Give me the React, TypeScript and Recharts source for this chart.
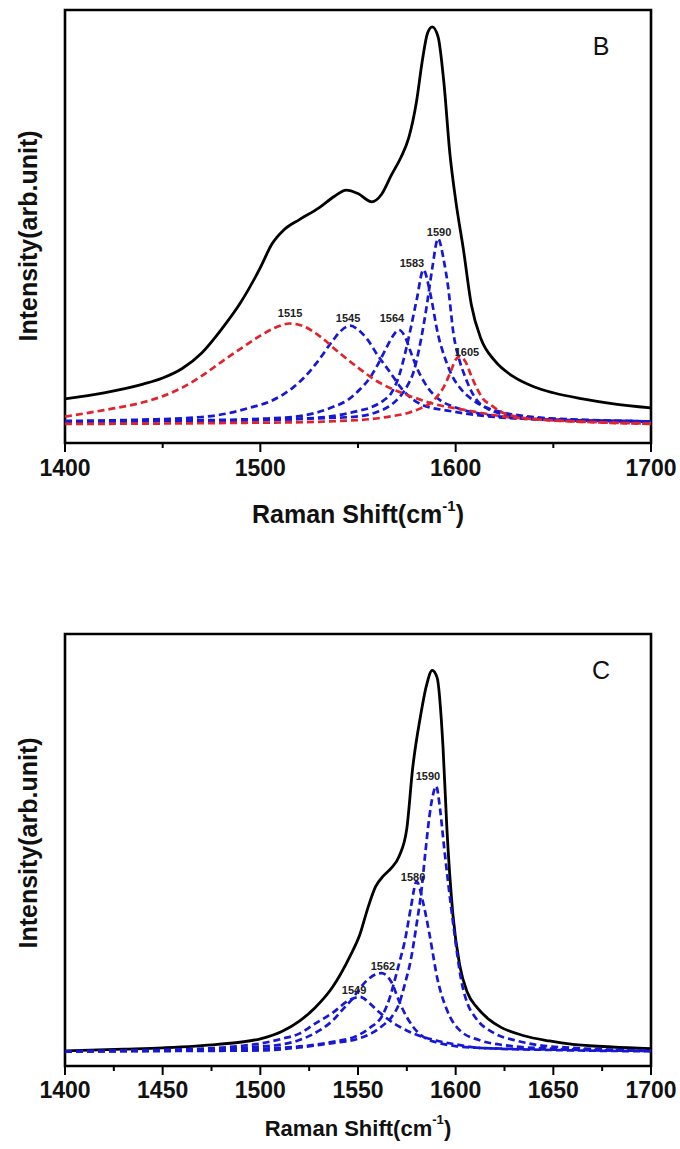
import React from "react";
import {
  LineChart,
  Line,
  XAxis,
  YAxis,
  ReferenceArea,
  ReferenceDot,
  Label,
} from "recharts";

type Pt = [number, number];

// ---- panel B (intensity in % of frame height) ----
const bTotal: Pt[] = [
  [1400, 10.2], [1420, 11.6], [1440, 13.6], [1450, 15.0], [1460, 17.2], [1470, 20.8],
  [1480, 26.2], [1490, 32.5], [1500, 40.5], [1506, 46.0], [1512, 49.2], [1520, 51.6],
  [1530, 54.3], [1538, 57.0], [1544, 58.4], [1550, 57.6], [1557, 55.7], [1562, 57.4],
  [1567, 61.8], [1572, 66.0], [1576, 70.5], [1580, 79.0], [1583, 88.5], [1585.5, 94.5],
  [1588, 96.1], [1591, 93.8], [1594, 83.1], [1597, 67.0], [1600, 56.1], [1604, 44.6],
  [1608, 32.0], [1613, 24.0], [1620, 19.0], [1630, 15.2], [1640, 13.0], [1650, 11.6],
  [1665, 10.2], [1680, 9.1], [1700, 8.1],
];
const bFit1515: Pt[] = [
  [1400, 6.1], [1420, 7.6], [1440, 9.4], [1450, 10.8], [1460, 12.8], [1470, 15.5],
  [1480, 18.7], [1490, 21.8], [1500, 24.8], [1507, 26.5], [1515, 27.6], [1522, 27.0],
  [1530, 24.8], [1540, 21.0], [1550, 17.4], [1560, 14.2], [1570, 12.0], [1580, 10.3],
  [1590, 8.9], [1600, 8.0], [1610, 7.2], [1620, 6.4], [1640, 5.5], [1660, 5.0],
  [1680, 4.7], [1700, 4.5],
];
const bFit1545: Pt[] = [
  [1400, 5.1], [1440, 5.4], [1470, 6.0], [1485, 7.0], [1495, 8.2], [1505, 9.6],
  [1512, 11.3], [1517, 12.9], [1523, 15.4], [1529, 18.6], [1537, 23.6], [1541, 25.8],
  [1546, 27.1], [1550, 26.2], [1555, 23.8], [1560, 20.3], [1566, 16.6], [1573, 12.2],
  [1583, 8.8], [1597, 7.4], [1620, 6.0], [1650, 5.4], [1700, 5.0],
];
const bFit1564: Pt[] = [
  [1400, 5.0], [1460, 5.2], [1500, 5.6], [1520, 6.2], [1537, 8.3], [1545, 10.0],
  [1551, 12.4], [1556, 15.0], [1560, 18.0], [1564, 21.5], [1568, 24.8], [1571, 26.1],
  [1574, 24.6], [1577, 21.0], [1580, 17.5], [1584, 14.0], [1588, 11.5], [1592, 9.9],
  [1600, 8.2], [1610, 7.0], [1625, 6.0], [1650, 5.3], [1700, 5.0],
];
const bFit1583: Pt[] = [
  [1400, 5.0], [1480, 5.2], [1520, 5.6], [1535, 6.1], [1550, 7.4], [1557, 8.3],
  [1563, 9.8], [1567, 11.5], [1571, 15.5], [1574, 20.5], [1577, 26.5], [1580, 33.0],
  [1583.5, 40.0], [1587, 34.5], [1591, 25.0], [1595, 19.0], [1598, 15.7], [1603, 12.3],
  [1608, 10.2], [1615, 8.3], [1622, 7.3], [1640, 6.0], [1670, 5.3], [1700, 5.0],
];
const bFit1590: Pt[] = [
  [1400, 5.0], [1500, 5.3], [1530, 5.7], [1549, 6.1], [1560, 7.2], [1567, 8.8],
  [1572, 11.0], [1575.5, 13.4], [1578.5, 16.5], [1581, 21.1], [1583.5, 27.0],
  [1585.5, 32.6], [1588, 40.3], [1591, 47.2], [1594, 42.0], [1596, 36.5], [1599, 24.9],
  [1602, 19.0], [1604.5, 15.7], [1608, 12.0], [1611, 9.8], [1616, 8.0], [1622, 6.9],
  [1640, 5.8], [1670, 5.2], [1700, 5.0],
];
const bFit1605: Pt[] = [
  [1400, 4.4], [1450, 4.5], [1500, 4.7], [1522, 4.8], [1540, 5.1], [1556, 5.5],
  [1566, 6.1], [1576, 7.0], [1582, 8.0], [1587, 9.2], [1591, 11.0], [1594, 13.0],
  [1597, 16.0], [1600, 19.2], [1602, 20.0], [1605, 18.8], [1608, 15.5], [1611, 12.5],
  [1614, 10.2], [1618, 8.8], [1622, 7.5], [1632, 6.0], [1644, 5.4], [1670, 4.8],
  [1700, 4.4],
];
const bPeakText = ["1515", "1545", "1564", "1583", "1590", "1605"];
const bPeakX = [1515.2, 1544.9, 1567.4, 1577.6, 1591.5, 1605.8];
const bPeakY = [30.0, 28.9, 28.9, 41.6, 48.7, 21.0];
const bMajorTicks = [1400, 1500, 1600, 1700];
const bMinorTicks = [1450, 1550, 1650];

// ---- panel C ----
const cTotal: Pt[] = [
  [1400, 3.5], [1430, 3.9], [1450, 4.2], [1478, 5.0], [1500, 6.3], [1511, 8.0],
  [1520, 10.4], [1528, 13.5], [1537, 18.3], [1546, 25.5], [1551, 30.5], [1555, 36.5],
  [1559, 41.5], [1563, 44.0], [1567, 45.8], [1571, 48.5], [1575, 55.0], [1578, 69.0],
  [1582, 81.0], [1585, 88.0], [1588, 91.6], [1590.5, 89.9], [1593.5, 74.0],
  [1595.5, 55.0], [1598.6, 35.0], [1602, 23.5], [1606, 17.0], [1611, 13.5],
  [1617, 10.8], [1623, 9.0], [1635, 7.0], [1648, 5.8], [1660, 5.0], [1680, 4.4],
  [1700, 4.0],
];
const cFit1549: Pt[] = [
  [1400, 3.4], [1455, 3.8], [1489, 4.6], [1500, 5.2], [1511, 6.3], [1520, 7.5],
  [1528, 9.8], [1537, 12.3], [1545, 15.1], [1551, 16.0], [1556, 14.5], [1560, 12.8],
  [1564, 11.3], [1568, 10.0], [1572, 8.9], [1578, 7.6], [1590, 5.9], [1600, 5.0],
  [1612, 4.2], [1650, 3.7], [1700, 3.4],
];
const cFit1562: Pt[] = [
  [1400, 3.4], [1478, 3.9], [1500, 4.5], [1511, 5.0], [1520, 6.0], [1530.5, 8.3],
  [1537, 10.5], [1542, 13.0], [1547, 15.5], [1551, 18.0], [1555, 20.0], [1562, 21.5],
  [1567, 19.5], [1571.5, 14.5], [1575, 11.3], [1578, 9.2], [1585, 6.3], [1590, 5.5],
  [1600, 4.6], [1612, 4.2], [1650, 3.8], [1700, 3.5],
];
const cFit1580: Pt[] = [
  [1400, 3.4], [1455, 3.6], [1500, 4.0], [1522, 4.6], [1537, 5.6], [1549, 6.9],
  [1556, 8.8], [1562.6, 11.8], [1566.4, 16.0], [1569, 20.2], [1571.5, 24.5],
  [1574, 29.0], [1577, 36.5], [1580, 42.7], [1583.5, 37.5], [1587, 29.5],
  [1590.5, 20.5], [1595.5, 13.0], [1602, 8.3], [1612, 6.0], [1625, 4.8], [1650, 4.0],
  [1700, 3.5],
];
const cFit1590: Pt[] = [
  [1400, 3.4], [1470, 3.5], [1500, 3.6], [1520, 4.3], [1537, 5.3], [1550, 6.3],
  [1557, 7.6], [1563, 9.5], [1567, 11.2], [1571.5, 15.0], [1574, 19.0], [1577, 24.5],
  [1580, 32.8], [1582.5, 40.7], [1584.5, 49.5], [1586.5, 57.6], [1588.5, 63.0],
  [1590, 64.8], [1592, 59.5], [1594, 51.0], [1596, 43.0], [1599, 32.0], [1603, 19.5],
  [1606, 14.5], [1610, 11.3], [1620, 7.5], [1630, 6.0], [1640, 5.0], [1660, 4.2],
  [1680, 3.8], [1700, 3.5],
];
const cPeakText = ["1590", "1580", "1562", "1549"];
const cPeakX = [1585.8, 1578.2, 1562.8, 1548.0];
const cPeakY = [67.1, 43.8, 23.1, 17.6];
const cMajorTicks = [1400, 1450, 1500, 1550, 1600, 1650, 1700];
const cMinorTicks = [1425, 1475, 1525, 1575, 1625, 1675];

const FONT = "'Liberation Sans', Arial, sans-serif";
const BLUE = "#1717d6";
const RED = "#e3232b";

const toRows = (pts: Pt[]) => pts.map(([x, y]) => ({ x, y }));

interface PanelProps {
  letter: string;
  total: Pt[];
  blue: Pt[][];
  red: Pt[][];
  peakText: string[];
  peakX: number[];
  peakY: number[];
  major: number[];
  minor: number[];
  height: number;
  top: number;
  axisHeight: number;
  labelDy: number;
  titleDy: number;
  titleSize: number;
}

function Panel(p: PanelProps) {
  const allTicks = [...p.major, ...p.minor].sort((a, b) => a - b);

  const renderTick = (props: any) => {
    const { x, y, payload } = props;
    const isMajor = p.major.includes(payload.value);
    return (
      <g>
        <line
          x1={x}
          x2={x}
          y1={y}
          y2={y + (isMajor ? 9 : 5)}
          stroke="#000"
          strokeWidth={2}
        />
        {isMajor && (
          <text
            x={x}
            y={y + p.labelDy}
            textAnchor="middle"
            dominantBaseline="central"
            fontFamily={FONT}
            fontWeight="bold"
            fontSize={23}
            fill="#111"
          >
            {payload.value}
          </text>
        )}
      </g>
    );
  };

  const xTitle = (props: any) => {
    const vb = props.viewBox;
    const cx = vb.x + vb.width / 2;
    return (
      <text
        x={cx}
        y={vb.y + p.titleDy}
        textAnchor="middle"
        dominantBaseline="central"
        fontFamily={FONT}
        fontWeight="bold"
        fontSize={p.titleSize}
        fill="#111"
      >
        Raman Shift(cm
        <tspan dy={-9} fontSize={p.titleSize * 0.6}>
          -1
        </tspan>
        <tspan dy={9}>)</tspan>
      </text>
    );
  };

  return (
    <LineChart
      width={680}
      height={p.height}
      margin={{ top: p.top, right: 29, bottom: 0, left: 65 }}
    >
      <XAxis
        type="number"
        dataKey="x"
        domain={[1400, 1700]}
        ticks={allTicks}
        interval={0}
        allowDataOverflow
        height={p.axisHeight}
        axisLine={false}
        tickLine={false}
        tickSize={0}
        tickMargin={0}
        tick={renderTick}
      >
        <Label content={xTitle} />
      </XAxis>
      <YAxis
        type="number"
        domain={[0, 100]}
        allowDataOverflow
        width={0}
        tick={false}
        tickLine={false}
        axisLine={false}
      />
      <ReferenceArea
        x1={1400}
        x2={1700}
        y1={0}
        y2={100}
        fill="none"
        stroke="#000"
        strokeWidth={2.6}
        ifOverflow="visible"
      />
      <Line
        data={toRows(p.total)}
        dataKey="y"
        type="monotone"
        stroke="#000"
        strokeWidth={2.8}
        dot={false}
        isAnimationActive={false}
      />
      {p.blue.map((pts, i) => (
        <Line
          key={`b${i}`}
          data={toRows(pts)}
          dataKey="y"
          type="monotone"
          stroke={BLUE}
          strokeWidth={2.7}
          strokeDasharray="7 4"
          dot={false}
          isAnimationActive={false}
        />
      ))}
      {p.red.map((pts, i) => (
        <Line
          key={`r${i}`}
          data={toRows(pts)}
          dataKey="y"
          type="monotone"
          stroke={RED}
          strokeWidth={2.7}
          strokeDasharray="7 4"
          dot={false}
          isAnimationActive={false}
        />
      ))}
      {p.peakText.map((t, i) => (
        <ReferenceDot
          key={t}
          x={p.peakX[i]}
          y={p.peakY[i]}
          r={0}
          fill="none"
          stroke="none"
          label={{
            value: t,
            position: "center",
            fontFamily: FONT,
            fontWeight: "bold",
            fontSize: 11,
            fill: "#222",
          }}
        />
      ))}
      <ReferenceDot
        x={1674.4}
        y={91.7}
        r={0}
        fill="none"
        stroke="none"
        label={{
          value: p.letter,
          position: "center",
          fontFamily: FONT,
          fontSize: 25,
          fill: "#111",
        }}
      />
    </LineChart>
  );
}

function YTitle({ top }: { top: number }) {
  return (
    <div
      style={{
        position: "absolute",
        left: 28,
        top,
        transform: "translate(-50%, -50%) rotate(-90deg)",
        whiteSpace: "nowrap",
        fontFamily: FONT,
        fontWeight: "bold",
        fontSize: 25,
        lineHeight: "25px",
        color: "#111",
      }}
    >
      Intensity(arb.unit)
    </div>
  );
}

export default function App() {
  return (
    <div
      style={{
        position: "absolute",
        left: 0,
        top: 0,
        width: 680,
        height: 1149,
        background: "#fff",
      }}
    >
      <div style={{ position: "absolute", left: 0, top: 0 }}>
        <Panel
          letter="B"
          total={bTotal}
          blue={[bFit1545, bFit1564, bFit1583, bFit1590]}
          red={[bFit1515, bFit1605]}
          peakText={bPeakText}
          peakX={bPeakX}
          peakY={bPeakY}
          major={bMajorTicks}
          minor={bMinorTicks}
          height={540}
          top={10}
          axisHeight={97}
          labelDy={25}
          titleDy={71}
          titleSize={25}
        />
      </div>
      <div style={{ position: "absolute", left: 0, top: 580 }}>
        <Panel
          letter="C"
          total={cTotal}
          blue={[cFit1549, cFit1562, cFit1580, cFit1590]}
          red={[]}
          peakText={cPeakText}
          peakX={cPeakX}
          peakY={cPeakY}
          major={cMajorTicks}
          minor={cMinorTicks}
          height={569}
          top={54}
          axisHeight={83}
          labelDy={24}
          titleDy={62}
          titleSize={22}
        />
      </div>
      <YTitle top={236} />
      <YTitle top={843} />
    </div>
  );
}
